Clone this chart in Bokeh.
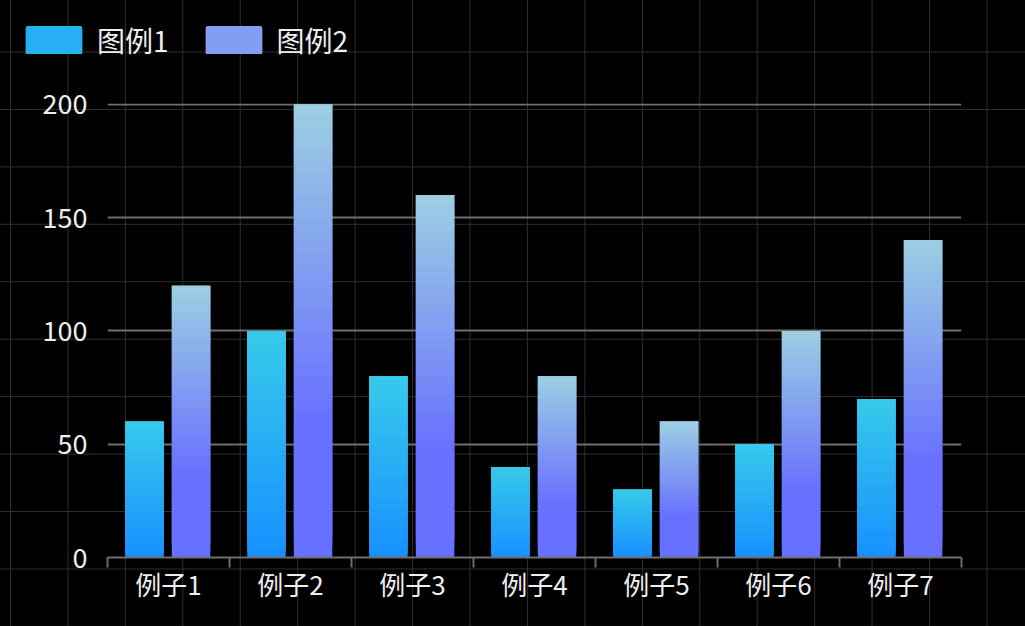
import numpy as np
from bokeh.plotting import figure
from bokeh.layouts import column
from bokeh.models import (ColumnDataSource, Range1d, FixedTicker, Legend, LegendItem,
                          GlobalInlineStyleSheet)
from bokeh.embed import file_html
from bokeh.resources import INLINE

# data
categories = ["例子1", "例子2", "例子3", "例子4", "例子5", "例子6", "例子7"]
series1 = [60, 100, 80, 40, 30, 50, 70]
series2 = [120, 200, 160, 80, 60, 100, 140]
legend_labels = ["图例1", "图例2"]
y_ticks = [0, 50, 100, 150, 200]

FONT = "Noto Sans CJK SC"
TEXT = "#eeeeee"
AXIS = "#6e6e6e"

# gradient stops, offset 0 = top of the bar, 1 = bottom
stops1 = [(0.0, (54, 202, 234)), (1.0, (24, 144, 255))]
stops2 = [(0.0, (156, 207, 226)), (0.7, (104, 112, 255)), (1.0, (104, 112, 255))]

# black page with the faint square grid behind the chart
page_css = """
body {
  background-color: #000000;
  background-image: linear-gradient(to right, #2f2f2f 1px, transparent 1px),
                    linear-gradient(to bottom, #2f2f2f 1px, transparent 1px);
  background-size: 57.45px 57.45px;
  background-position: 10px 51.5px;
}
"""


def grad_color(stops, t):
    for (o0, c0), (o1, c1) in zip(stops[:-1], stops[1:]):
        if t <= o1:
            f = (t - o0) / (o1 - o0) if o1 > o0 else 0
            rgb = [round(a + (b - a) * f) for a, b in zip(c0, c1)]
            return "#%02x%02x%02x" % tuple(rgb)
    return "#%02x%02x%02x" % stops[-1][1]


def bare(fig):
    fig.background_fill_color = None
    fig.border_fill_color = None
    fig.outline_line_color = None
    fig.frame_align = False


centers = [i + 0.5 for i in range(len(categories))]

# --- legend strip on top ---
strip = figure(width=1025, height=80, x_range=Range1d(0, 1), y_range=Range1d(0, 1),
               output_backend="svg", toolbar_location=None,
               x_axis_location=None, y_axis_location=None, min_border=0)
bare(strip)
strip.grid.visible = False

# hidden renderers that only feed the legend; thick round-joined outline rounds the swatch
leg1 = strip.vbar(x=centers, top=series1, width=0.3, fill_color="#27aff5",
                  line_color="#27aff5", line_width=8, line_join="round", visible=False)
leg2 = strip.vbar(x=centers, top=series2, width=0.3, fill_color="#839df0",
                  line_color="#839df0", line_width=8, line_join="round", visible=False)

legend = Legend(items=[LegendItem(label=legend_labels[0], renderers=[leg1]),
                       LegendItem(label=legend_labels[1], renderers=[leg2])],
                orientation="horizontal", location=(23, 20),
                glyph_width=61, glyph_height=28, label_height=30,
                label_standoff=13, spacing=34, padding=0, margin=0,
                border_line_color=None, background_fill_alpha=0,
                label_text_font=FONT, label_text_font_size="28px",
                label_text_color=TEXT)
strip.add_layout(legend)

# --- bar chart ---
chart = figure(width=1025, height=546, x_range=Range1d(0, len(categories)),
               y_range=Range1d(0, max(y_ticks) * 1.002),
               output_backend="svg", toolbar_location=None,
               min_border_left=107, min_border_right=64, min_border_top=23, min_border_bottom=69)
bare(chart)

chart.xgrid.visible = False
chart.ygrid.ticker = FixedTicker(ticks=y_ticks)
chart.ygrid.grid_line_color = AXIS
chart.ygrid.grid_line_width = 2


def add_bars(values, offset, stops, n=40):
    # each bar is a stack of overlapping thin slices to fake the vertical gradient
    xs, bottoms, tops, colors = [], [], [], []
    for i, v in enumerate(values):
        for k in range(n):
            xs.append(centers[i] + offset)
            bottoms.append(v * k / n)
            tops.append(v * min(k + 3, n) / n)
            colors.append(grad_color(stops, 1 - (k + 0.5) / n))
    src = ColumnDataSource(dict(x=xs, bottom=bottoms, top=tops, color=colors))
    chart.vbar(x="x", top="top", bottom="bottom", width=0.315, fill_color="color",
               line_color=None, source=src)


add_bars(series1, -0.197, stops1)
add_bars(series2, 0.185, stops2)

# x axis: labels at category centres, ticks at category boundaries
xa = chart.xaxis[0]
xa.ticker = FixedTicker(ticks=centers, minor_ticks=list(range(len(categories) + 1)))
xa.major_label_overrides = {c: name for c, name in zip(centers, categories)}
xa.major_tick_line_color = None
xa.major_tick_out = 0
xa.major_tick_in = 0
xa.minor_tick_line_color = AXIS
xa.minor_tick_line_width = 2
xa.minor_tick_out = 10
xa.minor_tick_in = 0
xa.axis_line_color = AXIS
xa.axis_line_width = 2
xa.major_label_standoff = -3
xa.major_label_text_font = FONT
xa.major_label_text_font_size = "26px"
xa.major_label_text_color = TEXT

ya = chart.yaxis[0]
ya.ticker = FixedTicker(ticks=y_ticks)
ya.axis_line_color = None
ya.major_tick_line_color = None
ya.major_tick_out = 0
ya.major_tick_in = 0
ya.minor_tick_line_color = None
ya.major_label_standoff = 20
ya.major_label_text_font = FONT
ya.major_label_text_font_size = "27px"
ya.major_label_text_color = TEXT

p = column(strip, chart, spacing=0)
p.stylesheets = [GlobalInlineStyleSheet(css=page_css)]

open("out.html", "w").write(file_html(p, INLINE))
